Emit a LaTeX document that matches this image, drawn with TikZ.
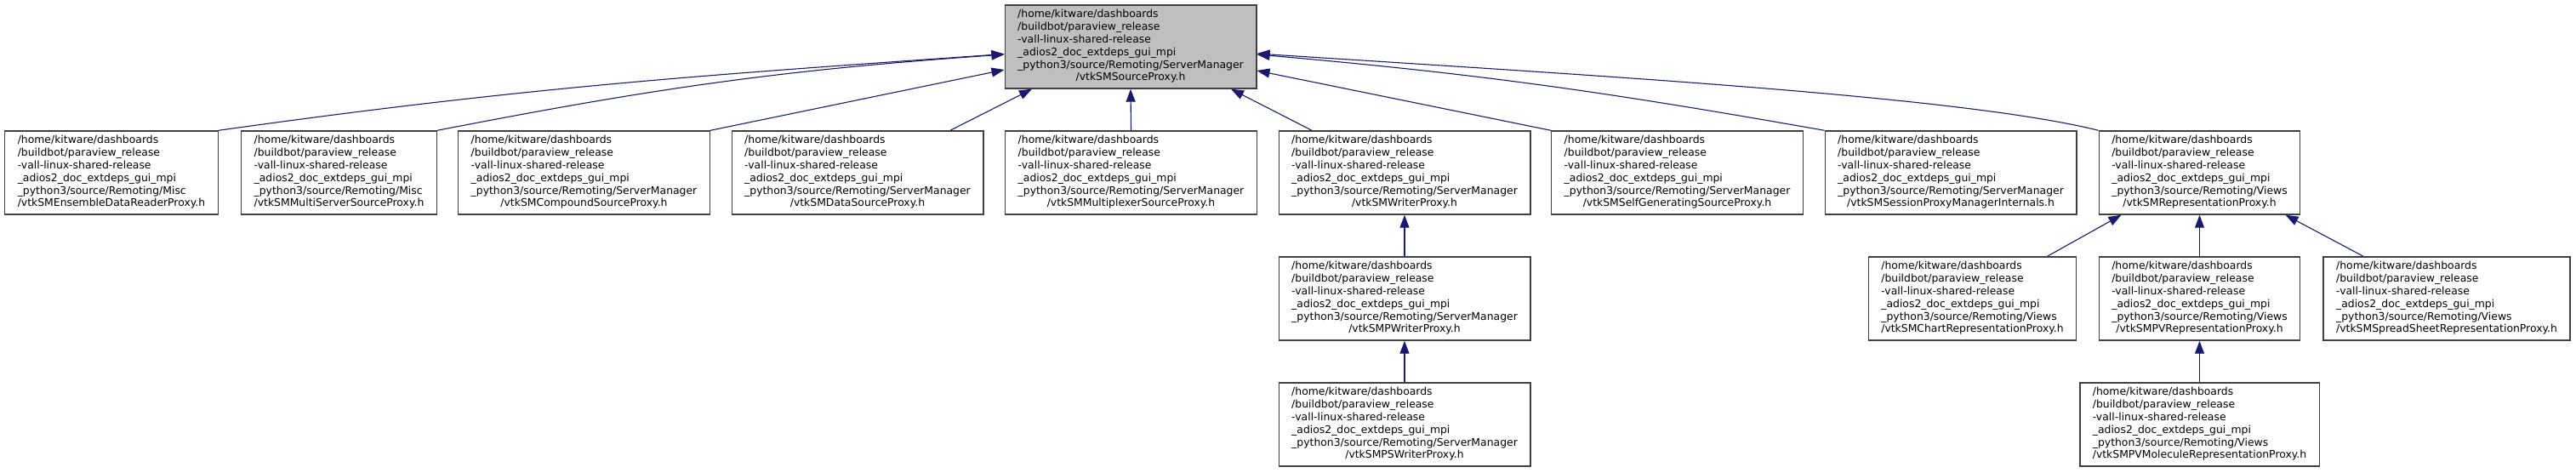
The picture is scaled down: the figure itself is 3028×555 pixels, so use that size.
\documentclass[tikz,border=0pt]{standalone}
\usepackage{fontspec}
\setmainfont{DejaVu Sans}
\usepackage{tikz}
\usetikzlibrary{arrows.meta}
\definecolor{dgedge}{RGB}{25, 25, 112}
\definecolor{dgfill}{RGB}{191, 191, 191}
\definecolor{dgline}{RGB}{64, 64, 64}
% common part of every path
\newcommand{\pvroot}{/home/kitware/dashboards\\/buildbot/paraview\_release\\-vall-linux-shared-release\\\_adios2\_doc\_extdeps\_gui\_mpi\\\_python3/source/Remoting}
% lines left aligned, last line centred
\newcommand{\flabel}[2]{\begin{tabular}{@{}l@{}}#1\\\multicolumn{1}{@{}c@{}}{#2}\end{tabular}}

\begin{document}
\begin{tikzpicture}[x=1pt, y=1pt,
    file/.style={rectangle, draw=dgline, fill=white, line width=1.4pt, minimum height=98pt, inner xsep=15pt, inner ysep=2pt, font=\fontsize{12.4}{14.8}\selectfont},
    srcfile/.style={file, fill=dgfill},
    edge/.style={draw=dgedge, line width=1.1pt, -{Triangle[length=15pt, width=11pt]}}
]
    \useasboundingbox (0, 0) rectangle (3028, -555);

    \node[srcfile] (src) at (1329, -55) {\flabel{\pvroot/ServerManager}{/vtkSMSourceProxy.h}};

    \node[file] (ensemble) at (131, -203) {\flabel{\pvroot/Misc}{/vtkSMEnsembleDataReaderProxy.h}};
    \node[file] (multiserver) at (398.5, -203) {\flabel{\pvroot/Misc}{/vtkSMMultiServerSourceProxy.h}};
    \node[file] (compound) at (686.5, -203) {\flabel{\pvroot/ServerManager}{/vtkSMCompoundSourceProxy.h}};
    \node[file] (datasrc) at (1008, -203) {\flabel{\pvroot/ServerManager}{/vtkSMDataSourceProxy.h}};
    \node[file] (multiplexer) at (1329.5, -203) {\flabel{\pvroot/ServerManager}{/vtkSMMultiplexerSourceProxy.h}};
    \node[file] (writer) at (1651, -203) {\flabel{\pvroot/ServerManager}{/vtkSMWriterProxy.h}};
    \node[file] (selfgen) at (1971.5, -203) {\flabel{\pvroot/ServerManager}{/vtkSMSelfGeneratingSourceProxy.h}};
    \node[file] (session) at (2293, -203) {\flabel{\pvroot/ServerManager}{/vtkSMSessionProxyManagerInternals.h}};
    \node[file] (repr) at (2585.5, -203) {\flabel{\pvroot/Views}{/vtkSMRepresentationProxy.h}};

    \node[file] (pwriter) at (1651, -351) {\flabel{\pvroot/ServerManager}{/vtkSMPWriterProxy.h}};
    \node[file] (chart) at (2318.5, -351) {\flabel{\pvroot/Views}{/vtkSMChartRepresentationProxy.h}};
    \node[file] (pvrepr) at (2585.5, -351) {\flabel{\pvroot/Views}{/vtkSMPVRepresentationProxy.h}};
    \node[file] (sheet) at (2876, -351) {\flabel{\pvroot/Views}{/vtkSMSpreadSheetRepresentationProxy.h}};

    \node[file] (pswriter) at (1651, -499) {\flabel{\pvroot/ServerManager}{/vtkSMPSWriterProxy.h}};
    \node[file] (molecule) at (2585.5, -499) {\flabel{\pvroot/Views}{/vtkSMPVMoleculeRepresentationProxy.h}};

    \draw[edge] (ensemble.north east) to[out=8, in=184] ([yshift=-8.5pt]src.west);
    \draw[edge] (multiserver.north east) to[out=11, in=184] ([yshift=-9pt]src.west);
    \draw[edge] (compound.north east) -- ([yshift=-27pt]src.west);
    \draw[edge] ([xshift=109pt]datasrc.north) -- ([xshift=-116pt]src.south);
    \draw[edge] (multiplexer.north) -- (src.south);
    \draw[edge] ([xshift=-109pt]writer.north) -- ([xshift=118pt]src.south);
    \draw[edge] (selfgen.north west) -- ([yshift=-28pt]src.east);
    \draw[edge] (session.north west) to[out=170, in=-5] ([yshift=-9pt]src.east);
    \draw[edge] (repr.north west) .. controls +(-160, 40) and +(400, -26) .. ([yshift=-8pt]src.east);

    \draw[edge] (pwriter) -- (writer);
    \draw[edge] (pswriter) -- (pwriter);
    \draw[edge] ([xshift=88pt]chart.north) -- ([xshift=-92pt]repr.south);
    \draw[edge] (pvrepr) -- (repr);
    \draw[edge] ([xshift=-98pt]sheet.north) -- ([xshift=101pt]repr.south);
    \draw[edge] (molecule) -- (pvrepr);
\end{tikzpicture}
\end{document}
